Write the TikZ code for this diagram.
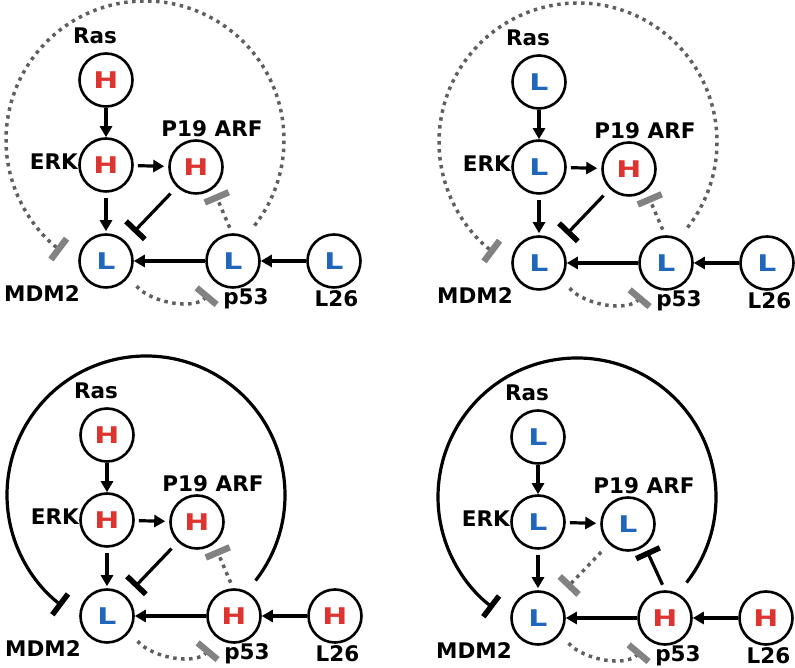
\documentclass[tikz,border=0pt]{standalone}
\usepackage{fontspec}
\setmainfont{DejaVu Sans}
\usetikzlibrary{arrows.meta,calc}
\definecolor{hired}{RGB}{222,52,48}
\definecolor{loblue}{RGB}{32,102,186}
\definecolor{dotgray}{RGB}{95,95,95}
\definecolor{bargray}{RGB}{130,130,130}
\def\hi{\textcolor{hired}{\scalebox{1.3}[1]{H}}}
\def\lo{\textcolor{loblue}{\scalebox{1.3}[1]{L}}}
\tikzset{
	gene/.style={circle, draw, line width=2.6pt, minimum size=53pt, inner sep=0pt, font=\bfseries\fontsize{23}{27}\selectfont},
	tag/.style={inner sep=0pt, anchor=base, font=\bfseries\fontsize{21.5}{25}\selectfont},
	act/.style={line width=3.2pt, -{Triangle[length=11pt,width=12pt]}},
	inh/.style={line width=3.2pt, -{Bar[width=26pt,line width=5.5pt]}},
	dinh/.style={draw=dotgray, line width=3.5pt, dash pattern=on 3.5pt off 4.5pt, -{Bar[width=26pt,line width=6.5pt,color=bargray]}},
}
% nodes and common edges of one panel: #1 prefix, #2..#7 Ras ERK ARF MDM2 p53 L26
\newcommand{\genes}[7]{%
	\node[gene] (#1ras) at (0,0) {#2};
	\node[gene] (#1erk) at (0,-85) {#3};
	\node[gene] (#1arf) at (90,-87) {#4};
	\node[gene] (#1mdm) at (0,-181) {#5};
	\node[gene] (#1p53) at (127,-181) {#6};
	\node[gene] (#1l26) at (228,-181) {#7};
	\node[tag] (#1rasl) at (-11,36.7) {Ras};
	\node[tag, anchor=base east] (#1erkl) at (-28,-90) {ERK};
	\node[tag] (#1arfl) at (106,-56.7) {P19 ARF};
	\node[tag] (#1mdml) at (-64,-221.7) {MDM2};
	\node[tag] (#1p53l) at (140,-225) {p53};
	\node[tag] (#1l26l) at (230.5,-226.7) {L26};
	\coordinate (#1c) at (39,-60);
	\draw[act] (#1ras) -- (#1erk);
	\draw[act, shorten <=4pt, shorten >=4pt] (#1erk) -- (#1arf);
	\draw[act, shorten <=5pt, shorten >=2pt] (#1erk) -- (#1mdm);
	\draw[act] (#1p53) -- (#1mdm);
	\draw[act] (#1l26) -- (#1p53);
	\draw[dinh, shorten <=12pt, shorten >=13pt] (#1mdm.-36) to[out=-48, in=-130] (#1p53.235);
}

\begin{document}
\begin{tikzpicture}[x=1pt, y=1pt]
	\useasboundingbox (0,0) rectangle (795,668);
	%%%%% TOP LEFT %%%%%
	\begin{scope}[shift={(106,588)}]
		\genes{a}{\hi}{\hi}{\hi}{\lo}{\lo}{\lo}
		\draw[inh, shorten <=9pt, shorten >=12pt] (aarf) -- (amdm);
		\draw[dinh, shorten <=6pt, shorten >=6pt] (ap53.92) -- (aarf.-52);
		\draw[dinh] ([shift={(-38:139)}]ac) arc[start angle=-38, end angle=233, radius=139];
	\end{scope}
	%%%%% TOP RIGHT %%%%%
	\begin{scope}[shift={(539,586)}]
		\genes{b}{\lo}{\lo}{\hi}{\lo}{\lo}{\lo}
		\draw[inh, shorten <=9pt, shorten >=12pt] (barf) -- (bmdm);
		\draw[dinh, shorten <=6pt, shorten >=6pt] (bp53.92) -- (barf.-52);
		\draw[dinh] ([shift={(-38:139)}]bc) arc[start angle=-38, end angle=233, radius=139];
	\end{scope}
	%%%%% BOTTOM LEFT %%%%%
	\begin{scope}[shift={(107,233)}]
		\genes{c}{\hi}{\hi}{\hi}{\lo}{\hi}{\hi}
		\draw[inh, shorten <=9pt, shorten >=12pt] (carf) -- (cmdm);
		\draw[dinh, shorten <=6pt, shorten >=6pt] (cp53.92) -- (carf.-52);
		\draw[inh] ([shift={(-38:139)}]cc) arc[start angle=-38, end angle=233, radius=139];
	\end{scope}
	%%%%% BOTTOM RIGHT %%%%%
	\begin{scope}[shift={(538,231)}]
		\genes{d}{\lo}{\lo}{\lo}{\lo}{\hi}{\hi}
		\draw[dinh, shorten <=11pt, shorten >=14pt] (darf) -- (dmdm);
		\draw[inh, shorten <=6pt, shorten >=5pt] (dp53.90) -- (darf.-53);
		\draw[inh] ([shift={(-38:139)}]dc) arc[start angle=-38, end angle=233, radius=139];
	\end{scope}
\end{tikzpicture}
\end{document}
